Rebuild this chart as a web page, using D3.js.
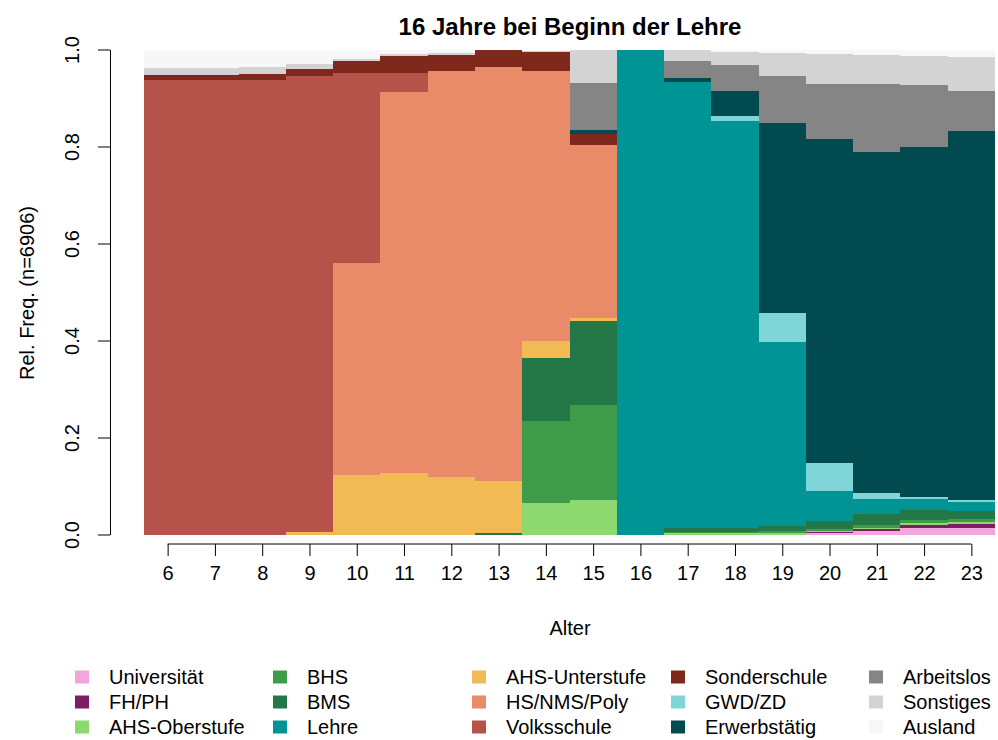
<!DOCTYPE html>
<html>
<head>
<meta charset="utf-8">
<script src="https://cdn.jsdelivr.net/npm/d3@7"></script>
<style>
	body {margin: 0; background: #fff;}
	svg text {font-family: "Liberation Sans", Arial, Helvetica, sans-serif; fill: #000;}
</style>
</head>
<body>
<div id="chart"></div>
<script>
// DATA _________________________
const ages = [6, 7, 8, 9, 10, 11, 12, 13, 14, 15, 16, 17, 18, 19, 20, 21, 22, 23]

// stacking order, bottom to top (same as legend, column by column)
const categories = ["Universität", "FH/PH", "AHS-Oberstufe", "BHS", "BMS", "Lehre",
	"AHS-Unterstufe", "HS/NMS/Poly", "Volksschule", "Sonderschule", "GWD/ZD",
	"Erwerbstätig", "Arbeitslos", "Sonstiges", "Ausland"]

const catColors = ["#F4A5DB", "#7A1F62", "#8ED870", "#3E9B4A", "#247847", "#009494",
	"#F1BA54", "#E98A69", "#B5534A", "#7F291D", "#80D5D9",
	"#004A50", "#858585", "#D3D3D3", "#F7F7F7"]

// rel. freq per age 6..23
const universitaet   = [0, 0, 0, 0, 0, 0, 0, 0, 0, 0, 0, 0, 0, 0, 0.003, 0.008, 0.013, 0.013]
const fhPh           = [0, 0, 0, 0, 0, 0, 0, 0, 0, 0, 0, 0, 0, 0, 0.002, 0.003, 0.007, 0.009]
const ahsOberstufe   = [0, 0, 0, 0, 0, 0, 0, 0, 0.064, 0.072, 0, 0.004, 0.004, 0.004, 0.003, 0.003, 0.004, 0.003]
const bhs            = [0, 0, 0, 0, 0, 0, 0, 0, 0.171, 0.195, 0, 0.002, 0.002, 0.003, 0.004, 0.005, 0.005, 0.007]
const bms            = [0, 0, 0, 0, 0, 0, 0, 0.003, 0.128, 0.174, 0, 0.008, 0.007, 0.010, 0.015, 0.024, 0.021, 0.017]
const lehre          = [0, 0, 0, 0, 0, 0, 0, 0, 0, 0, 1.0, 0.918, 0.840, 0.380, 0.063, 0.031, 0.023, 0.017]
const ahsUnterstufe  = [0, 0, 0, 0.005, 0.123, 0.127, 0.119, 0.107, 0.035, 0.005, 0, 0, 0, 0, 0, 0, 0, 0]
const hsNmsPoly      = [0, 0, 0, 0, 0.437, 0.786, 0.837, 0.853, 0.558, 0.357, 0, 0, 0, 0, 0, 0, 0, 0]
const volksschule    = [0.937, 0.937, 0.938, 0.940, 0.391, 0.038, 0, 0, 0, 0, 0, 0, 0, 0, 0, 0, 0, 0]
const sonderschule   = [0.010, 0.010, 0.011, 0.014, 0.026, 0.036, 0.033, 0.037, 0.039, 0.023, 0, 0, 0, 0, 0, 0, 0, 0]
const gwdZd          = [0, 0, 0, 0, 0, 0, 0, 0, 0, 0, 0, 0.002, 0.010, 0.060, 0.058, 0.012, 0.005, 0.005]
const erwerbstaetig  = [0, 0, 0, 0, 0, 0, 0, 0, 0, 0.009, 0, 0.008, 0.052, 0.392, 0.667, 0.702, 0.720, 0.760]
const arbeitslos     = [0, 0, 0, 0, 0, 0, 0, 0, 0, 0.095, 0, 0.035, 0.053, 0.096, 0.113, 0.141, 0.129, 0.084]
const sonstiges      = [0.015, 0.014, 0.015, 0.012, 0.004, 0.003, 0.004, 0, 0.002, 0.068, 0, 0.021, 0.027, 0.048, 0.063, 0.059, 0.060, 0.070]
const ausland        = [0.038, 0.039, 0.036, 0.029, 0.019, 0.010, 0.007, 0, 0.003, 0.002, 0, 0.002, 0.005, 0.007, 0.009, 0.011, 0.013, 0.015]

const series = [universitaet, fhPh, ahsOberstufe, bhs, bms, lehre, ahsUnterstufe, hsNmsPoly,
	volksschule, sonderschule, gwdZd, erwerbstaetig, arbeitslos, sonstiges, ausland]

const yTicks = [0, 0.2, 0.4, 0.6, 0.8, 1.0]

const titleText = "16 Jahre bei Beginn der Lehre"
const xTitle = "Alter"
const yTitle = "Rel. Freq. (n=6906)"


class stackViz{
	constructor(parentElement){
		this.parentElement = parentElement

		// one row per age, one column per category
		this.data = ages.map((a,i)=>{
			let row = {age: a}
			categories.forEach((c,j)=>{ row[c] = series[j][i] })
			return row
		})

		this.initVis()
	}

	initVis(){
		let vis = this;

		// SET UP SVG _________________________
		vis.fullWidth = 998;
		vis.fullHeight = 740;

		vis.svg = d3.select("#" + vis.parentElement).append("svg")
				.attr("width", vis.fullWidth)
				.attr("height", vis.fullHeight)

		// scales (bars run from age-0.5 to age+0.5)
		vis.xScale = d3.scaleLinear()
				.domain([5.5, 23.5])
				.range([144, 995])

		vis.yScale = d3.scaleLinear()
				.domain([0, 1])
				.range([534.5, 49.5])

		vis.colorScale = d3.scaleOrdinal()
				.domain(categories)
				.range(catColors)

		vis.stacked = d3.stack().keys(categories)(vis.data)

		vis.updateVis()
	}

	updateVis(){
		let vis = this;

		// bars
		vis.layers = vis.svg.append("g").attr("class", "layers")
				.selectAll("g")
				.data(vis.stacked)
				.join("g")
				.attr("fill", d=>vis.colorScale(d.key))

		vis.layers.selectAll("rect")
				.data(d=>d.filter(s=>s[1]-s[0] > 0))
				.join("rect")
				.attr("x", d=>vis.xScale(d.data.age - 0.5))
				.attr("width", d=>vis.xScale(d.data.age + 0.5) - vis.xScale(d.data.age - 0.5))
				.attr("y", d=>vis.yScale(d[1]))
				.attr("height", d=>vis.yScale(d[0]) - vis.yScale(d[1]))
				.attr("shape-rendering", "crispEdges")

		// x axis (R style: line only from first to last tick)
		vis.xAxis = d3.axisBottom(vis.xScale)
				.tickValues(ages)
				.tickFormat(d3.format("d"))
				.tickSize(12)
				.tickPadding(10)

		vis.xAxisGroup = vis.svg.append("g")
				.attr("class", "xAxis")
				.attr("transform", "translate(0,544)")
				.call(vis.xAxis)
				.attr("font-size", "20px")
				.attr("font-family", null)
		vis.xAxisGroup.select(".domain").remove()
		vis.xAxisGroup.append("line")
				.attr("x1", vis.xScale(ages[0]))
				.attr("x2", vis.xScale(ages[ages.length-1]))
				.attr("stroke", "#000")

		// y axis
		vis.yAxis = d3.axisLeft(vis.yScale)
				.tickValues(yTicks)
				.tickFormat(d3.format(".1f"))
				.tickSize(12)
				.tickSizeOuter(0)

		vis.yAxisGroup = vis.svg.append("g")
				.attr("class", "yAxis")
				.attr("transform", "translate(110,0)")
				.call(vis.yAxis)
				.attr("font-size", "20px")
				.attr("font-family", null)
		vis.yAxisGroup.selectAll(".tick text")
				.attr("x", null)
				.attr("dy", "0.35em")
				.attr("text-anchor", "middle")
				.attr("transform", "translate(-38,0) rotate(-90)")

		// titles
		vis.svg.append("text")
				.attr("x", 570)
				.attr("y", 35)
				.attr("text-anchor", "middle")
				.attr("font-size", "24px")
				.attr("font-weight", "bold")
				.text(titleText)

		vis.svg.append("text")
				.attr("x", 570)
				.attr("y", 635)
				.attr("text-anchor", "middle")
				.attr("font-size", "20px")
				.text(xTitle)

		vis.svg.append("text")
				.attr("transform", "translate(27,293) rotate(-90)")
				.attr("dy", "0.35em")
				.attr("text-anchor", "middle")
				.attr("font-size", "20px")
				.text(yTitle)

		// legend: 5 columns x 3 rows, filled column by column
		vis.legendCols = [109, 307, 506, 705, 903]
		vis.legendRows = [677, 702, 727]

		vis.legend = vis.svg.append("g").attr("class", "legend")
				.selectAll("g")
				.data(categories)
				.join("g")
				.attr("transform", (d,i)=>`translate(${vis.legendCols[Math.floor(i/3)]},${vis.legendRows[i%3]})`)

		vis.legend.append("rect")
				.attr("x", -34)
				.attr("y", -6.5)
				.attr("width", 14)
				.attr("height", 13)
				.attr("fill", d=>vis.colorScale(d))

		vis.legend.append("text")
				.attr("dy", "0.35em")
				.attr("font-size", "20px")
				.text(d=>d)
	}
}

new stackViz("chart")
</script>
</body>
</html>
